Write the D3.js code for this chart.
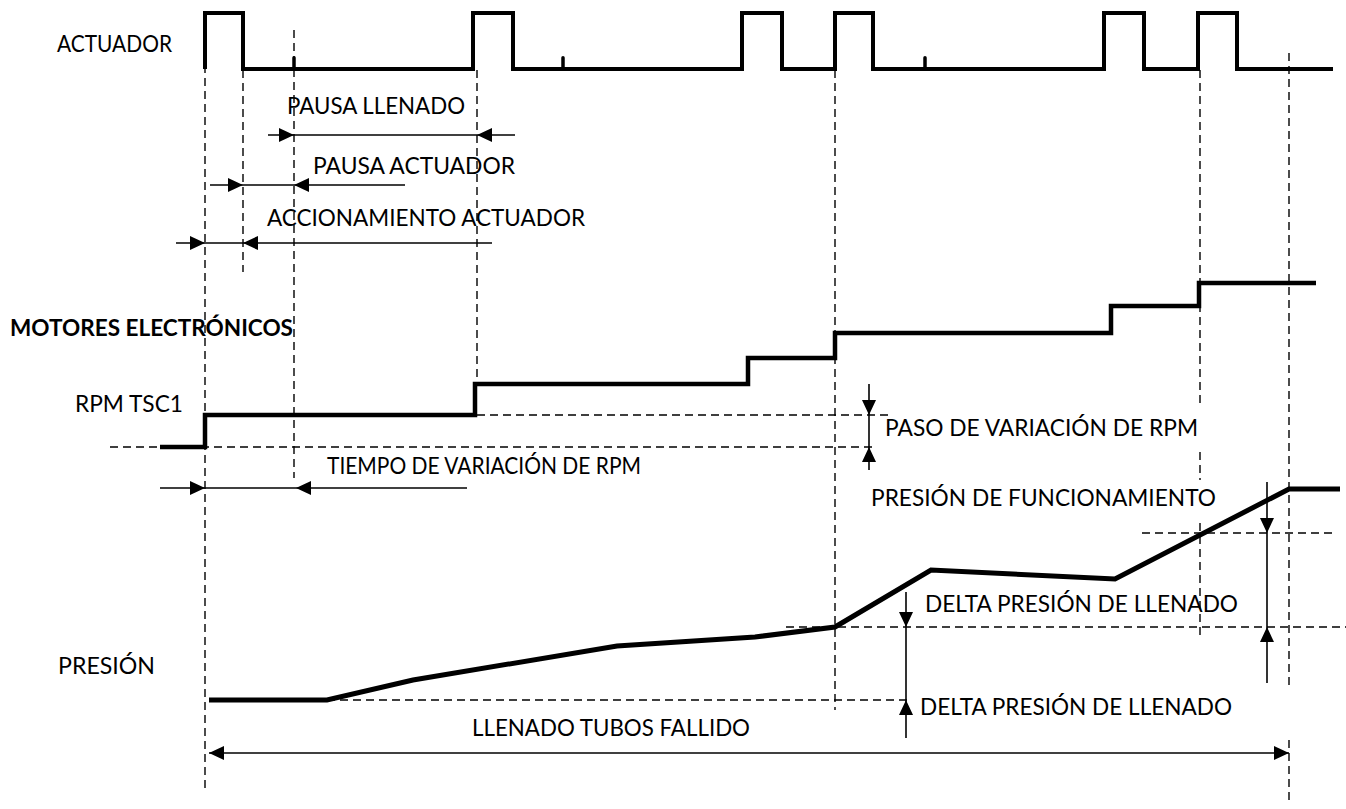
<!DOCTYPE html>
<html>
<head>
<meta charset="utf-8">
<script src="https://cdn.jsdelivr.net/npm/d3@7"></script>
<style>
  body { margin: 0; background: #fff; }
  text { font-family: Lato, "Open Sans", sans-serif; fill: #000; }
</style>
</head>
<body>
<div class="chart"></div>
<script>
var svgWidth = 1346;
var svgHeight = 809;

// ACTUADOR: instantes de cambio y nivel (0 bajo / 1 alto)
var actTimes  = [205, 205, 243, 473, 513, 742, 782, 835, 873, 1104, 1144, 1198, 1237, 1333];
var actLevels = [0, 1, 0, 1, 0, 1, 0, 1, 0, 1, 0, 1, 0, 0];
var actBumps  = [294, 563, 925];

// RPM TSC1 (escalones)
var rpmTimes  = [160, 205, 475, 748, 835, 1111, 1199, 1316];
var rpmValues = [0, 32, 63, 89, 114, 141, 164, 164];

// PRESIÓN
var presTimes  = [209, 327, 413, 617, 755, 835, 931, 1115, 1289, 1340];
var presValues = [0, 0, 20, 54, 63, 73, 130, 121, 211, 211];

// lineas de referencia verticales (instante, desde, hasta)
var vGuideTimes = [205, 243, 294, 477, 835, 1200, 1200, 1200, 1289, 1289];
var vGuideFrom  = [65, 70, 30, 70, 70, 70, 452, 523, 53, 740];
var vGuideTo    = [793, 272, 478, 383, 710, 408, 480, 638, 688, 800];

// cotas horizontales: y, extremos, puntas (instante, sentido)
var hDims = [
  {y: 135, t0: 268, t1: 515, heads: [[294, "r"], [477, "l"]]},
  {y: 185, t0: 210, t1: 405, heads: [[243, "r"], [294, "l"]]},
  {y: 243, t0: 176, t1: 492, heads: [[205, "r"], [243, "l"]]},
  {y: 488, t0: 160, t1: 467, heads: [[205, "r"], [296, "l"]]},
  {y: 753, t0: 209, t1: 1289, heads: [[209, "l"], [1289, "r"]]}
];

// etiquetas
var labels = [
  {text: "ACTUADOR", x: 57, y: 44, w: 115},
  {text: "PAUSA LLENADO", x: 287, y: 106, w: 178},
  {text: "PAUSA ACTUADOR", x: 313, y: 166, w: 202},
  {text: "ACCIONAMIENTO ACTUADOR", x: 267, y: 218, w: 318},
  {text: "MOTORES ELECTRÓNICOS", x: 10, y: 328, w: 283, bold: true},
  {text: "RPM TSC1", x: 75, y: 404, w: 108},
  {text: "TIEMPO DE VARIACIÓN DE RPM", x: 327, y: 466, w: 314},
  {text: "PASO DE VARIACIÓN DE RPM", x: 885, y: 428, w: 313},
  {text: "PRESIÓN DE FUNCIONAMIENTO", x: 871, y: 498, w: 345},
  {text: "DELTA PRESIÓN DE LLENADO", x: 925, y: 604, w: 313},
  {text: "DELTA PRESIÓN DE LLENADO", x: 920, y: 707, w: 312},
  {text: "PRESIÓN", x: 58, y: 666, w: 97},
  {text: "LLENADO TUBOS FALLIDO", x: 472, y: 728, w: 278}
];

var svg = d3.select(".chart")
  .append("svg")
  .attr("width", svgWidth)
  .attr("height", svgHeight);

// escalas
var x = d3.scaleLinear().domain([0, svgWidth]).range([0, svgWidth]);
var yAct = d3.scaleLinear().domain([0, 1]).range([69, 13]);
var yRpm = d3.scaleLinear().domain([0, 164]).range([447, 283]);
var yPres = d3.scaleLinear().domain([0, 211]).range([700, 489]);

// cotas verticales (usan las escalas de cada señal)
var vDims = [
  {t: 869, y0: 384, y1: 470, heads: [[yRpm(32), "d"], [yRpm(0), "u"]]},
  {t: 1267, y0: 482, y1: 683, heads: [[yPres(167), "d"], [yPres(73), "u"]]},
  {t: 906, y0: 592, y1: 738, heads: [[yPres(73), "d"], [yPres(0), "u"]]}
];

// lineas horizontales discontinuas
var hGuides = [
  {y: yRpm(32), t0: 477, t1: 888},
  {y: yRpm(0), t0: 110, t1: 873},
  {y: yPres(167), t0: 1142, t1: 1333},
  {y: yPres(73), t0: 786, t1: 1346},
  {y: yPres(0), t0: 327, t1: 907}
];

var guides = svg.append("g")
  .attr("stroke", "#000")
  .attr("stroke-width", 1.4)
  .attr("stroke-dasharray", "8,5");

guides.selectAll(".vg")
  .data(vGuideTimes)
  .enter()
  .append("line")
  .attr("x1", d => x(d))
  .attr("x2", d => x(d))
  .attr("y1", (d, i) => vGuideFrom[i])
  .attr("y2", (d, i) => vGuideTo[i]);

guides.selectAll(".hg")
  .data(hGuides)
  .enter()
  .append("line")
  .attr("x1", d => x(d.t0))
  .attr("x2", d => x(d.t1))
  .attr("y1", d => d.y)
  .attr("y2", d => d.y);

// flechas de cota
function headPath(px, py, dir) {
  var L = 15, h = 7;
  if (dir === "r") return `M${px},${py}L${px - L},${py - h}L${px - L},${py + h}Z`;
  if (dir === "l") return `M${px},${py}L${px + L},${py - h}L${px + L},${py + h}Z`;
  if (dir === "d") return `M${px},${py}L${px - h},${py - L}L${px + h},${py - L}Z`;
  return `M${px},${py}L${px - h},${py + L}L${px + h},${py + L}Z`;
}

var dims = svg.append("g");

hDims.forEach(function(d) {
  dims.append("line")
    .attr("x1", x(d.t0)).attr("x2", x(d.t1))
    .attr("y1", d.y).attr("y2", d.y)
    .attr("stroke", "#000").attr("stroke-width", 1.6);
  d.heads.forEach(function(hd) {
    dims.append("path").attr("d", headPath(x(hd[0]), d.y, hd[1])).attr("fill", "#000");
  });
});

vDims.forEach(function(d) {
  dims.append("line")
    .attr("x1", x(d.t)).attr("x2", x(d.t))
    .attr("y1", d.y0).attr("y2", d.y1)
    .attr("stroke", "#000").attr("stroke-width", 1.6);
  d.heads.forEach(function(hd) {
    dims.append("path").attr("d", headPath(x(d.t), hd[0], hd[1])).attr("fill", "#000");
  });
});

// señales
var actLine = d3.line()
  .x(d => x(d[0]))
  .y(d => yAct(d[1]))
  .curve(d3.curveStepAfter);

svg.append("path")
  .datum(actTimes.map((t, i) => [t, actLevels[i]]))
  .attr("d", actLine)
  .attr("fill", "none")
  .attr("stroke", "#000")
  .attr("stroke-width", 4);

svg.selectAll(".bump")
  .data(actBumps)
  .enter()
  .append("line")
  .attr("x1", d => x(d)).attr("x2", d => x(d))
  .attr("y1", yAct(0)).attr("y2", yAct(0.2))
  .attr("stroke", "#000")
  .attr("stroke-width", 3.5)
  .attr("stroke-linecap", "round");

var rpmLine = d3.line()
  .x(d => x(d[0]))
  .y(d => yRpm(d[1]))
  .curve(d3.curveStepAfter);

svg.append("path")
  .datum(rpmTimes.map((t, i) => [t, rpmValues[i]]))
  .attr("d", rpmLine)
  .attr("fill", "none")
  .attr("stroke", "#000")
  .attr("stroke-width", 4.5);

var presLine = d3.line()
  .x(d => x(d[0]))
  .y(d => yPres(d[1]));

svg.append("path")
  .datum(presTimes.map((t, i) => [t, presValues[i]]))
  .attr("d", presLine)
  .attr("fill", "none")
  .attr("stroke", "#000")
  .attr("stroke-width", 5);

// textos
svg.selectAll(".lbl")
  .data(labels)
  .enter()
  .append("text")
  .attr("x", d => d.x)
  .attr("y", d => d.y + 8)
  .attr("font-size", 23)
  .attr("font-weight", d => d.bold ? 700 : 400)
  .attr("textLength", d => d.w)
  .attr("lengthAdjust", "spacingAndGlyphs")
  .text(d => d.text);
</script>
</body>
</html>
